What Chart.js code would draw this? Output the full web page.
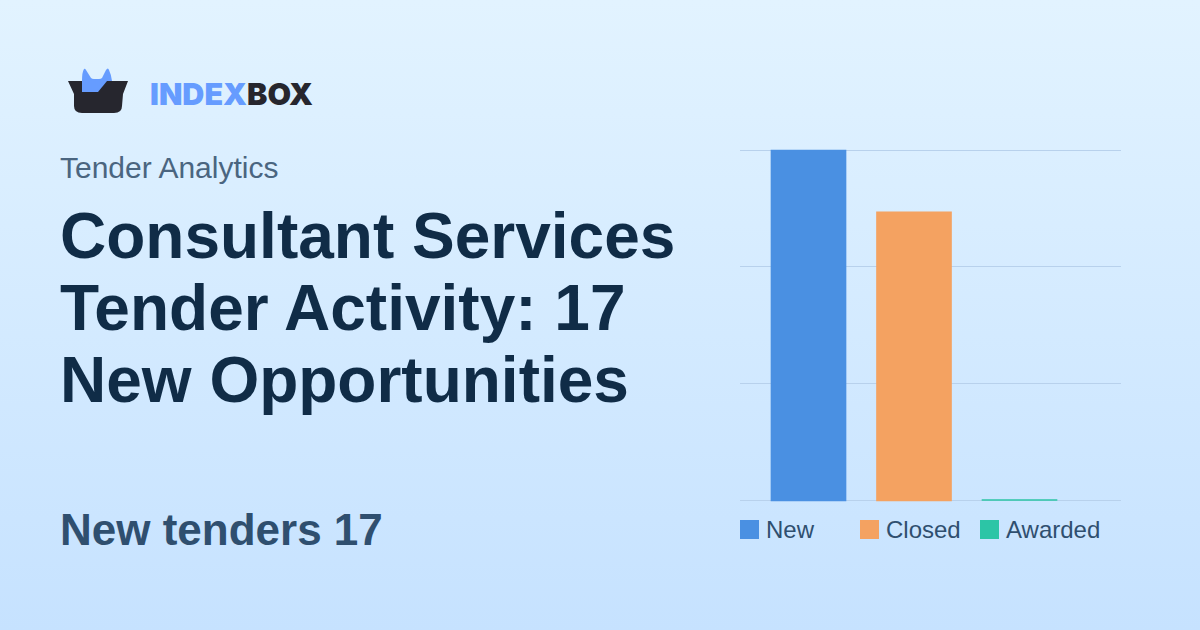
<!DOCTYPE html>
<html>
<head>
<meta charset="utf-8">
<script src="https://cdn.jsdelivr.net/npm/chart.js@4"></script>
<style>
  html, body { margin: 0; padding: 0; }
  body {
    width: 1200px; height: 630px; position: relative; overflow: hidden;
    background: linear-gradient(180deg, #e2f3ff 0%, #c6e2ff 100%);
    font-family: "Liberation Sans", Arial, sans-serif;
  }
  .abs { position: absolute; white-space: nowrap; }
  #logoText { left: 150px; top: 74px; font: 900 30.5px/40px Inter, sans-serif; color: #26262e; }
  #logoText span { color: #669cff; }
  #kicker { left: 60px; top: 150px; font-size: 30px; line-height: 35px; color: #4a6580; }
  #title { left: 60px; top: 200px; font-size: 64px; line-height: 72px; font-weight: bold; color: #102c47; }
  #metric { left: 60px; top: 504px; font-size: 44px; line-height: 51px; font-weight: bold; color: #2f4f6f; }
  #chartBox { position: absolute; left: 730px; top: 140px; width: 401px; height: 371px; }
  .legendBox { position: absolute; top: 520px; width: 19px; height: 19px; }
  .legendText { position: absolute; top: 516px; font-size: 24px; line-height: 28px; color: #2f4f6f; white-space: nowrap; }
</style>
</head>
<body>
<svg class="abs" style="left:60px;top:60px" width="76" height="60" viewBox="0 0 76 60">
  <path d="M22 32 L22 21 Q22 12 24 9 Q25 8 26 10 L31 18 Q32 19 34 19 L39 19 Q41 19 42 18 L46 10 Q48 7 49 10 Q51 14 52 21 L52 32 Z" fill="#669cff"/>
  <path d="M8 21 L68 21 L63 34 L62 46 Q62 53 54 53 L22 53 Q14 53 14 46 L14 34 Z" fill="#26262e"/>
  <path d="M22 21 L47 21 L38 32 L22 32 Z" fill="#669cff"/>
</svg>
<div class="abs" id="logoText"><span>INDEX</span>BOX</div>
<div class="abs" id="kicker">Tender Analytics</div>
<div class="abs" id="title">Consultant Services<br>Tender Activity: 17<br>New Opportunities</div>
<div class="abs" id="metric">New tenders 17</div>
<div id="chartBox"><canvas id="tenderChart" width="401" height="371"></canvas></div>
<div id="legend"></div>
<script>
const categories = ['New', 'Closed', 'Awarded'];
const tenderValues = [17, 14, 0];
const barColors = ['#4a90e2', '#f4a261', '#2cc5a6'];
const yTicks = [0, 17 / 3, 34 / 3, 17];

document.addEventListener('DOMContentLoaded', () => {
  const ctx = document.getElementById('tenderChart').getContext('2d');

  new Chart(ctx, {
    type: 'bar',
    data: {
      datasets: [{
        data: tenderValues.map((v, i) => ({ x: i, y: v })),
        backgroundColor: barColors,
        barThickness: 75,
        minBarLength: 1,
        base: -0.0243, // half a pixel under zero, bars end on a whole pixel
        clip: false,
        borderWidth: 0
      }]
    },
    options: {
      responsive: false,
      animation: false,
      layout: { padding: { left: 10, right: 10, top: 10, bottom: 10.5 } },
      plugins: { legend: { display: false }, tooltip: { enabled: false } },
      scales: {
        x: {
          type: 'linear',
          offset: false,
          min: -0.6493,
          max: 2.9621,
          display: false
        },
        y: {
          min: 0,
          max: 17,
          afterBuildTicks: axis => { axis.ticks = yTicks.map(value => ({ value })); },
          border: { display: false },
          grid: { color: '#b8d1ec', lineWidth: 1, drawTicks: false },
          ticks: { display: false }
        }
      }
    }
  });

  // legend sits on a fixed 120px column grid, so it is plain html
  const legend = document.getElementById('legend');
  categories.forEach((name, i) => {
    const left = 740 + i * 120;
    legend.insertAdjacentHTML('beforeend',
      `<div class="legendBox" style="left:${left}px;background:${barColors[i]}"></div>` +
      `<div class="legendText" style="left:${left + 26}px">${name}</div>`);
  });
});
</script>
</body>
</html>
